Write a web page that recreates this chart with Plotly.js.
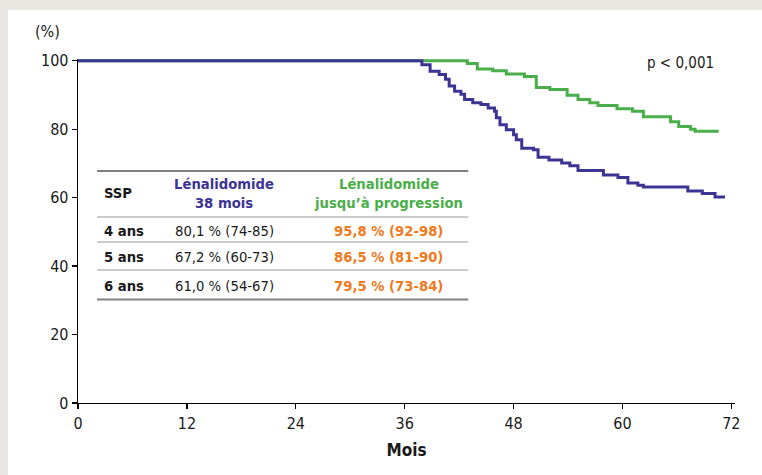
<!DOCTYPE html>
<html>
<head>
<meta charset="utf-8">
<script src="https://cdn.plot.ly/plotly-3.0.1.min.js"></script>
<style>
  html, body { margin: 0; padding: 0; background: #e8e7e1; overflow: hidden; }
  #chart { position: absolute; left: 8px; top: 10px; width: 754px; height: 465px; }
</style>
</head>
<body>
<div id="chart"></div>
<script>
// ---- data ----
const xTicks = [0, 12, 24, 36, 48, 60, 72];
const yTicks = [0, 20, 40, 60, 80, 100];

// Lénalidomide 38 mois (blue): time of each step (months) and survival (%)
const blueMonths = [0, 37.9, 38.8, 39.8, 40.5, 40.9, 41.5, 42.2, 42.6, 43.5, 44.4, 45.2, 45.9, 46.1, 46.5, 47.2, 48.0, 48.3, 48.9, 50.2, 50.7, 51.9, 53.3, 54.2, 55.1, 57.9, 59.5, 60.6, 61.7, 62.3, 67.2, 68.8, 70.2, 71.3];
const blueSurv   = [100, 98.8, 96.9, 96.0, 94.6, 92.6, 91.1, 90.2, 88.7, 87.7, 87.2, 86.2, 85.2, 83.3, 81.3, 79.8, 78.4, 76.9, 74.4, 74.0, 71.8, 71.0, 70.1, 69.3, 67.9, 66.6, 65.9, 64.3, 63.6, 63.1, 61.9, 61.2, 60.2, 60.2];

// Lénalidomide jusqu'à progression (green)
const greenMonths = [0, 42.9, 44.0, 45.7, 47.2, 49.2, 50.5, 52.0, 53.9, 55.1, 56.4, 57.3, 59.4, 61.1, 62.3, 65.3, 66.2, 67.5, 68.0, 70.6];
const greenSurv   = [100, 99.2, 97.6, 97.1, 96.1, 95.4, 92.2, 91.6, 89.9, 88.7, 87.7, 86.9, 86.0, 85.2, 83.6, 82.2, 80.8, 80.0, 79.4, 79.4];

// Table
const tableRows  = ['4 ans', '5 ans', '6 ans'];
const col38      = ['80,1 % (74-85)', '67,2 % (60-73)', '61,0 % (54-67)'];
const colProg    = ['95,8 % (92-98)', '86,5 % (81-90)', '79,5 % (73-84)'];
const headerSSP  = 'SSP';
const header38   = 'Lénalidomide<br>38 mois';
const headerProg = 'Lénalidomide<br>jusqu’à progression';
const pValueText = 'p < 0,001';
const yUnitText  = '(%)';
const xTitleText = 'Mois';

// ---- styling / geometry ----
const FONT = "'Liberation Sans Narrow', 'DejaVu Sans Condensed', 'Roboto Condensed', 'Arial Narrow', sans-serif";
const BLUE = '#3c3494', GREEN = '#4aae4a', ORANGE = '#f07a20', INK = '#1a1a1a';
const TSIZE = 14.7;

// plot area in page pixels
const PX0 = 78, PX1 = 734.6, PYT = 59, PYB = 403;
const px = X => (X - PX0) / (PX1 - PX0);
const py = Y => (PYB - Y) / (PYB - PYT);

const traces = [
  { x: greenMonths, y: greenSurv, mode: 'lines', line: { shape: 'hv', color: GREEN, width: 3 }, hoverinfo: 'skip', showlegend: false },
  { x: blueMonths, y: blueSurv, mode: 'lines', line: { shape: 'hv', color: BLUE, width: 3 }, hoverinfo: 'skip', showlegend: false }
];

const annotations = [];
const ann = (text, X, Y, xanchor, size, color, bold) => annotations.push({
  text: bold ? '<b>' + text + '</b>' : text,
  xref: 'paper', yref: 'paper', x: px(X), y: py(Y),
  xanchor: xanchor, yanchor: 'middle', showarrow: false,
  font: { family: FONT, size: size, color: color }
});

ann(yUnitText, 48, 31, 'center', 16, INK, false);
ann(pValueText, 680, 63, 'center', 15, INK, false);

// table header
ann(headerSSP, 102, 192, 'left', TSIZE, INK, true);
annotations.push({ text: '<b>' + header38 + '</b>', xref: 'paper', yref: 'paper', x: px(224), y: py(193),
  xanchor: 'center', yanchor: 'middle', showarrow: false, align: 'center',
  font: { family: FONT, size: TSIZE, color: BLUE } });
annotations.push({ text: '<b>' + headerProg + '</b>', xref: 'paper', yref: 'paper', x: px(388), y: py(193),
  xanchor: 'center', yanchor: 'middle', showarrow: false, align: 'center',
  font: { family: FONT, size: TSIZE, color: GREEN } });

const rowY = [230, 256, 285];
tableRows.forEach((r, i) => {
  ann(r, 102, rowY[i], 'left', TSIZE, INK, true);
  ann(col38[i], 224, rowY[i], 'center', TSIZE, INK, false);
  ann(colProg[i], 388, rowY[i], 'center', TSIZE, ORANGE, true);
});

const hline = (Y, w, c) => ({ type: 'line', xref: 'paper', yref: 'paper',
  x0: px(97), x1: px(468), y0: py(Y), y1: py(Y), line: { color: c, width: w } });
const shapes = [
  hline(171, 2, '#808080'),
  hline(217, 1.2, '#9a9a9a'),
  hline(242, 1.2, '#9a9a9a'),
  hline(270, 1.2, '#9a9a9a'),
  hline(299.5, 2, '#808080')
];

const layout = {
  width: 754, height: 465,
  margin: { l: PX0 - 8, r: 754 - (PX1 - 8), t: PYT - 10, b: 465 - (PYB - 10), pad: 0 },
  paper_bgcolor: '#ffffff', plot_bgcolor: 'rgba(0,0,0,0)',
  font: { family: FONT, size: 16, color: INK },
  xaxis: {
    range: [0, 72.4], tickvals: xTicks, ticktext: xTicks.map(String),
    showline: true, linecolor: '#000', linewidth: 1.3, ticks: 'outside', ticklen: 5, tickwidth: 1.2, tickcolor: '#000',
    showgrid: false, zeroline: false, fixedrange: true,
    tickfont: { family: FONT, size: 16, color: INK },
    title: { text: '<b>' + xTitleText + '</b>', font: { family: FONT, size: 17, color: INK }, standoff: 12 }
  },
  yaxis: {
    range: [0, 100.5], tickvals: yTicks, ticktext: yTicks.map(String),
    showline: true, linecolor: '#000', linewidth: 1.3, ticks: 'outside', ticklen: 5, tickwidth: 1.2, tickcolor: '#000',
    showgrid: false, zeroline: false, fixedrange: true,
    tickfont: { family: FONT, size: 16, color: INK }
  },
  annotations: annotations,
  shapes: shapes,
  showlegend: false
};

Plotly.newPlot('chart', traces, layout, { staticPlot: true, displayModeBar: false });
</script>
</body>
</html>
